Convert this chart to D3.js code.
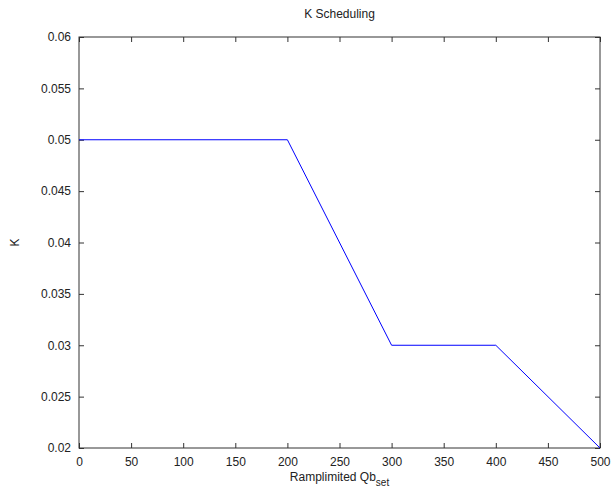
<!DOCTYPE html>
<html>
<head>
<meta charset="utf-8">
<script src="https://cdn.jsdelivr.net/npm/d3@7"></script>
<style>
  body { margin: 0; background: #fff; }
  text { font-family: "Liberation Sans", Arial, sans-serif; font-size: 12px; fill: #222; }
</style>
</head>
<body>
<div id="chart"></div>
<script>
// data
const qbSet = [0, 200, 300, 400, 500];
const kValues = [0.05, 0.05, 0.03, 0.03, 0.02];
const xTicks = [0, 50, 100, 150, 200, 250, 300, 350, 400, 450, 500];
const yTicks = [0.02, 0.025, 0.03, 0.035, 0.04, 0.045, 0.05, 0.055, 0.06];

const width = 615;
const height = 496;
const margin = { top: 37, right: 15, bottom: 48, left: 79 };

const svg = d3.select("#chart")
    .append("svg")
    .attr("width", width)
    .attr("height", height);

const x = d3.scaleLinear()
    .domain([0, 500])
    .range([margin.left, width - margin.right]);

const y = d3.scaleLinear()
    .domain([0.02, 0.06])
    .range([height - margin.bottom, margin.top]);

const tickLen = 5;
const fmtY = d => d3.format("")(+d.toFixed(3));

// bottom axis (ticks inward)
svg.append("g")
    .attr("transform", `translate(0,${y(0.02)})`)
    .call(d3.axisBottom(x).tickValues(xTicks).tickSize(-tickLen).tickPadding(tickLen + 4).tickFormat(d3.format("d")))
    .call(g => g.select(".domain").remove());

// top axis, ticks only
svg.append("g")
    .attr("transform", `translate(0,${y(0.06)})`)
    .call(d3.axisTop(x).tickValues(xTicks).tickSize(-tickLen).tickFormat(""))
    .call(g => g.select(".domain").remove());

// left axis
svg.append("g")
    .attr("transform", `translate(${x(0)},0)`)
    .call(d3.axisLeft(y).tickValues(yTicks).tickSize(-tickLen).tickPadding(tickLen + 3).tickFormat(fmtY))
    .call(g => g.select(".domain").remove());

// right axis, ticks only
svg.append("g")
    .attr("transform", `translate(${x(500)},0)`)
    .call(d3.axisRight(y).tickValues(yTicks).tickSize(-tickLen).tickFormat(""))
    .call(g => g.select(".domain").remove());

svg.selectAll(".tick line").attr("stroke", "#333");
svg.selectAll(".tick text").attr("font-size", 12).attr("fill", "#222")
    .style("font-family", "'Liberation Sans', Arial, sans-serif");

// box
svg.append("rect")
    .attr("x", x(0))
    .attr("y", y(0.06))
    .attr("width", x(500) - x(0))
    .attr("height", y(0.02) - y(0.06))
    .attr("fill", "none")
    .attr("stroke", "#333")
    .attr("stroke-width", 1);

// the line
const line = d3.line()
    .x((d, i) => x(qbSet[i]))
    .y(d => y(d));

svg.append("path")
    .datum(kValues)
    .attr("d", line)
    .attr("fill", "none")
    .attr("stroke", "#0000ff")
    .attr("stroke-width", 1);

// title
svg.append("text")
    .attr("x", (x(0) + x(500)) / 2)
    .attr("y", 18)
    .attr("text-anchor", "middle")
    .text("K Scheduling");

// x label with subscript
const xl = svg.append("text")
    .attr("x", (x(0) + x(500)) / 2)
    .attr("y", 481)
    .attr("text-anchor", "middle");
xl.append("tspan").text("Ramplimited Qb");
xl.append("tspan").attr("dy", 5).attr("font-size", 10).text("set");

// y label
svg.append("text")
    .attr("transform", `translate(19,${(y(0.02) + y(0.06)) / 2}) rotate(-90)`)
    .attr("text-anchor", "middle")
    .text("K");
</script>
</body>
</html>
